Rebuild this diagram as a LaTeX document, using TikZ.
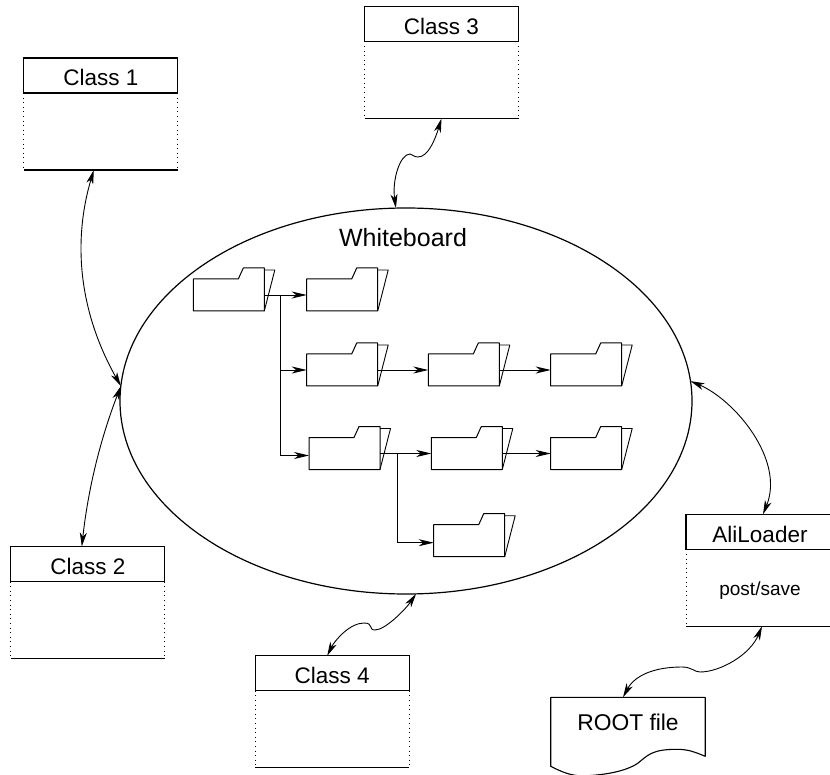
\documentclass[tikz,border=0pt]{standalone}
\usepackage{fontspec}
\setmainfont{Liberation Sans}
\usetikzlibrary{arrows.meta,shapes.geometric,positioning}
\tikzset{
  basic/.style      = {inner sep=0pt, outer sep=0pt, line width=1.1pt, rectangle},
  classhead/.style  = {basic, draw, minimum width=154pt, minimum height=35pt,
                       text height=21pt, text depth=0pt, font=\fontsize{22.5}{24}\selectfont},
  classbody/.style  = {basic, minimum width=154pt, minimum height=77pt,
                       text height=15pt, text depth=0pt, font=\fontsize{19}{21}\selectfont,
                       append after command={
                         \pgfextra{
                           \draw[dotted side] (\tikzlastnode.north west) -- (\tikzlastnode.south west);
                           \draw[dotted side] (\tikzlastnode.north east) -- (\tikzlastnode.south east);
                           \draw[line width=1.1pt] (\tikzlastnode.south west) -- (\tikzlastnode.south east);
                         }}},
  dotted side/.style = {line width=0.9pt, dash pattern=on 1pt off 3.6pt},
  folder/.style     = {basic, minimum width=71pt, minimum height=32pt,
                       append after command={
                         \pgfextra{
                           \draw[line width=1.0pt, line join=round]
                             ([xshift=45pt]\tikzlastnode.north west) -- ++(5pt,11pt)
                             -- ([yshift=11pt]\tikzlastnode.north east)
                             -- (\tikzlastnode.south east) -- (\tikzlastnode.south west)
                             -- (\tikzlastnode.north west) -- cycle;
                           \draw[line width=0.9pt, line join=round]
                             ([yshift=9pt]\tikzlastnode.north east) -- ++(10.5pt,0pt)
                             -- (\tikzlastnode.south east);
                         }}},
  rootdoc/.style    = {basic, minimum width=154.5pt, minimum height=50pt,
                       font=\fontsize{22.8}{24}\selectfont,
                       append after command={
                         \pgfextra{
                           \draw[line width=1.1pt, line join=round]
                             (\tikzlastnode.north east) -- (\tikzlastnode.north west)
                             -- ([yshift=-19pt]\tikzlastnode.south west)
                             .. controls +(8pt,-4pt) and +(-15pt,-1pt) .. ++(35pt,-9.5pt)
                             .. controls +(20pt,1pt) and +(-12pt,-8pt) .. ++(52pt,12.5pt)
                             .. controls +(10pt,8pt) and +(-25pt,0pt) .. ++(39pt,14pt)
                             .. controls +(12pt,0pt) and +(-10pt,4pt) .. ([yshift=-9pt]\tikzlastnode.south east)
                             -- (\tikzlastnode.north east);
                         }}},
  link/.style       = {{Stealth[length=14pt,width=7pt,inset=4pt]}-{Stealth[length=14pt,width=7pt,inset=4pt]},
                       line width=0.9pt}
}

\begin{document}
\begin{tikzpicture}[x=1pt, y=-1pt,
		>={Stealth[length=15pt,width=7pt,inset=4.5pt]}]
	  \path[use as bounding box, clip] (0,0) rectangle (830,775);

	  % the whiteboard
	  \node[ellipse, draw, line width=1.2pt, inner sep=0pt, outer sep=0pt,
	        minimum width=572pt, minimum height=386pt] (wb) at (406,401) {};
	  \node[font=\fontsize{25}{27}\selectfont, inner sep=0pt] (wbtitle) at (403,238) {Whiteboard};

	  % the classes round it
	  \node[classhead] (c1h) at (100.8,75.5) {Class 1};
	  \node[classbody, below=0pt of c1h] (c1b) {};
	  \node[classhead] (c2h) at (87.8,564) {Class 2};
	  \node[classbody, below=0pt of c2h] (c2b) {};
	  \node[classhead] (c3h) at (441.5,24) {Class 3};
	  \node[classbody, below=0pt of c3h] (c3b) {};
	  \node[classhead] (c4h) at (332.2,673.3) {Class 4};
	  \node[classbody, below=0pt of c4h] (c4b) {};
	  \node[classhead, minimum width=148pt] (loadh) at (760,531.8) {AliLoader};
	  \node[classbody, minimum width=148pt, below=0pt of loadh] (loadb) {post/save};
	  \node[rootdoc] (rootf) at (628,722.3) {ROOT file};

	  % the folders
	  \node[folder] (f0) at (228.8,295) {};
	  \node[folder] (f1) at (342.2,295) {};
	  \node[folder] (f2) at (342.2,370) {};
	  \node[folder] (f3) at (463.8,370) {};
	  \node[folder] (f4) at (586.2,370) {};
	  \node[folder] (f5) at (344.5,453.5) {};
	  \node[folder] (f6) at (466.8,453.5) {};
	  \node[folder] (f7) at (586.2,453.5) {};
	  \node[folder] (f8) at (469.2,540.7) {};

	  % lines between the folders
	  \foreach \from/\to in {f0/f1,f2/f3,f3/f4,f5/f6,f6/f7}
		\draw[->, line width=0.9pt] (\from.east) -- (\to.west);

	  \draw[->, line width=0.9pt] ([xshift=16pt]f0.east) |- (f2.west);
	  \draw[->, line width=0.9pt] ([xshift=16pt]f0.east) |- ([yshift=-2pt]f5.west);
	  \draw[->, line width=0.9pt] ([xshift=17pt]f5.east) |- ([yshift=-2pt]f8.west);

	  % curved links to the whiteboard
	  \draw[link] ([xshift=-7pt]c1b.south) .. controls (73,240) and (78,310) .. (wb.177);
	  \draw[link] ([xshift=-6pt]c2h.north) .. controls (88,490) and (100,440) .. (wb.177);
	  \draw[link] (c3b.south) .. controls (435,140) and (428,157) .. (418,157)
	        .. controls (413,157) and (413,154) .. (410,154)
	        .. controls (400,154) and (392,180) .. (wb.93);
	  \draw[link] ([xshift=-5pt]c4h.north) .. controls (335,640) and (350,623) .. (364,623)
	        .. controls (374,623) and (368,630) .. (375,630)
	        .. controls (385,630) and (405,610) .. (wb.273);
	  \draw[link] (wb.4) .. controls (735,400) and (785,460) .. ([xshift=3pt]loadh.north);
	  \draw[link] ([xshift=2pt]loadb.south) .. controls (750,655) and (720,672) .. (700,672)
	        .. controls (694,672) and (692,667) .. (682,667)
	        .. controls (655,667) and (635,675) .. ([xshift=-5pt]rootf.north);
\end{tikzpicture}
\end{document}
